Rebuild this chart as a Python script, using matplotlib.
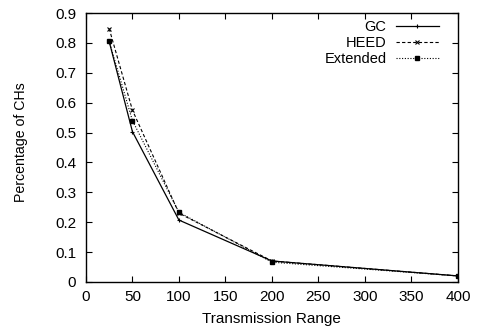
import matplotlib
matplotlib.use("Agg")
import matplotlib.pyplot as plt

plt.rcParams['font.family'] = ['Liberation Sans', 'DejaVu Sans']

x = [25, 50, 100, 200, 400]
gc = [0.805, 0.503, 0.207, 0.07, 0.02]
heed = [0.848, 0.575, 0.23, 0.07, 0.02]
extended = [0.805, 0.54, 0.233, 0.066, 0.02]

fig = plt.figure(figsize=(4.8, 3.34), dpi=100)
ax = fig.add_axes([0.179, 0.156, 0.775, 0.805])

ax.plot(x, gc, color='black', linestyle='-', linewidth=0.9, marker='+', markersize=3.5, markeredgewidth=0.8, label='GC')
ax.plot(x, heed, color='black', linestyle=(0, (3, 2)), linewidth=0.8, marker='x', markersize=3, markeredgewidth=0.8, label='HEED')
ax.plot(x, extended, color='black', linestyle=(0, (1, 1.5)), linewidth=0.8, marker='s', markersize=2.2, label='Extended')

ax.set_xlim(0, 400)
ax.set_ylim(0, 0.9)
ax.set_xticks(range(0, 401, 50))
ax.set_yticks([i / 10 for i in range(10)])
ax.set_yticklabels(['0'] + ['0.%d' % i for i in range(1, 10)])
ax.tick_params(direction='in', top=True, right=True, labelsize=11, length=4, width=0.8)
ax.tick_params(axis='x', pad=6)
ax.tick_params(axis='y', pad=7)
for s in ax.spines.values():
    s.set_linewidth(1.0)

ax.set_xlabel('Transmission Range', fontsize=11)
ax.set_ylabel('Percentage of CHs', fontsize=10.2)
ax.xaxis.set_label_coords(0.5, -0.1115)
ax.yaxis.set_label_coords(-0.156, 0.52)

leg = ax.legend(loc='upper right', bbox_to_anchor=(0.954, 0.983), frameon=False, markerfirst=False,
                fontsize=10.5, handlelength=2.9, labelspacing=0.14, borderaxespad=0.0,
                borderpad=0.15, handletextpad=0.68)
for t in leg.get_texts():
    t.set_ha('right')
leg._legend_box.align = 'right'

fig.savefig('out.png', dpi=100)
